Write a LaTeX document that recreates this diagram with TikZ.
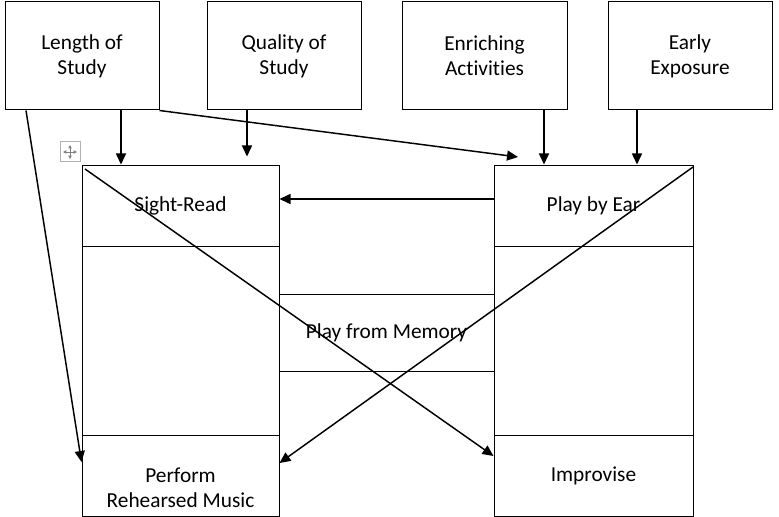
\documentclass[tikz,border=0pt]{standalone}
\usepackage{fontspec}
\setmainfont{Carlito}[Ligatures=NoCommon]
\usetikzlibrary{arrows.meta}
\tikzset{
  factor/.style={draw, line width=0.75pt, minimum height=81pt, align=center, inner sep=0pt, font=\fontsize{16}{19}\selectfont},
  cell/.style={draw, line width=0.75pt, minimum height=60.75pt, align=center, inner sep=0pt, font=\fontsize{16}{19}\selectfont},
  link/.style={line width=1.1pt, -{Triangle[length=8.25pt,width=7.5pt]}}
}
\begin{document}
\begin{tikzpicture}[x=0.75pt, y=-0.75pt]
\useasboundingbox (0,0) rectangle (779,517);
\fill[white] (0,0) rectangle (779,517);
% factor boxes
\node[factor, minimum width=115.5pt] (len) at (82,56) {Length of\\Study};
\node[factor, minimum width=115.5pt] (qual) at (284,56) {Quality of\\Study};
\node[factor, minimum width=123.75pt] (enr) at (484.5,56) {Enriching\\Activities};
\node[factor, minimum width=123pt] (early) at (690,56) {Early\\Exposure};
% table
\draw[line width=0.75pt] (82,165) rectangle (279,516);
\draw[line width=0.75pt] (494,165) rectangle (693,516);
\node[cell, minimum width=147.75pt] (sight) at (180.5,205.5) {Sight-Read};
\node[cell, minimum width=149.25pt] (ear) at (593.5,205.5) {Play by Ear};
\node[cell, minimum width=161.25pt, minimum height=57.75pt] (memory) at (386.5,332.5) {Play from Memory};
\node[cell, minimum width=147.75pt, label={[align=center, font=\fontsize{16}{19}\selectfont, yshift=-9pt]center:Perform\\Rehearsed Music}] (perform) at (180.5,475.5) {};
\node[cell, minimum width=149.25pt] (improv) at (593.5,475.5) {Improvise};
% move handle
\draw[gray!60, line width=0.75pt] (60,142) rectangle (80,162);
\draw[gray, line width=0.6pt, {Triangle[length=2.5pt,width=2.5pt]}-{Triangle[length=2.5pt,width=2.5pt]}] (63,152) -- (77,152);
\draw[gray, line width=0.6pt, {Triangle[length=2.5pt,width=2.5pt]}-{Triangle[length=2.5pt,width=2.5pt]}] (70,145) -- (70,159);
% arrows
\coordinate (earin) at (518,157);
\draw[link] (len.south -| 26,0) -- (perform.west |- 0,462);
\draw[link] (len.south -| 121,0) -- (sight.north -| 121,0);
\draw[link, shorten >=6pt] (qual.south -| 247,0) -- (sight.north -| 247,0);
\draw[link] (len.south east) -- (earin);
\draw[link] (enr.south -| 544,0) -- (ear.north -| 544,0);
\draw[link] (early.south -| 637,0) -- (ear.north -| 637,0);
\draw[link] (ear.west |- 0,199) -- (sight.east |- 0,199);
\draw[link] (85,169) -- (improv.west |- 0,456);
\draw[link] (693,167) -- (perform.east |- 0,463);
\end{tikzpicture}
\end{document}
